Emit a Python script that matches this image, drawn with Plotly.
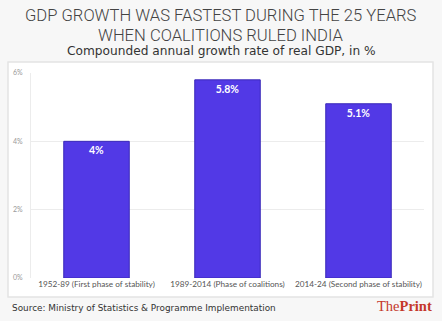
import plotly.graph_objects as go

# Compounded annual growth rate of real GDP by political phase
periods = [
    "1952-89 (First phase of stability)",
    "1989-2014 (Phase of coalitions)",
    "2014-24 (Second phase of stability)",
]
growth = [4.0, 5.8, 5.1]
bar_labels = ["4%", "5.8%", "5.1%"]
y_ticks = [0, 2, 4, 6]
y_tick_labels = ["0%", "2%", "4%", "6%"]
title_lines = [
    "GDP GROWTH WAS FASTEST DURING THE 25 YEARS",
    "WHEN COALITIONS RULED INDIA",
]

W, H = 442, 321
ML, MR, MT, MB = 31, 18, 73, 43
PW, PH = W - ML - MR, H - MT - MB


def px(x):
    return (x - ML) / PW


def py(y):
    return (H - MB - y) / PH


fig = go.Figure(
    go.Bar(
        x=periods,
        y=growth,
        text=bar_labels,
        textposition="inside",
        insidetextanchor="end",
        textfont=dict(family="Lato", size=10.5, color="white", weight="bold"),
        marker=dict(color="#5239e6", line=dict(color="#3a28b8", width=1)),
        width=0.5,
        hoverinfo="skip",
    )
)

# white card behind the plot
fig.add_shape(
    type="rect", xref="paper", yref="paper",
    x0=px(8), x1=px(433), y0=py(297), y1=py(62),
    fillcolor="white", line=dict(color="#e4e4e4", width=1.5),
    layer="below",
)

for line, yc in zip(title_lines, [15.5, 35]):
    fig.add_annotation(
        text=line,
        xref="paper", yref="paper", x=px(221), y=py(yc),
        showarrow=False, xanchor="center", yanchor="middle",
        font=dict(family="Roboto", size=16.6, color="#444444", weight=300),
    )
fig.add_annotation(
    text="Compounded annual growth rate of real GDP, in %",
    xref="paper", yref="paper", x=px(221), y=py(51),
    showarrow=False, xanchor="center", yanchor="middle",
    font=dict(family="DejaVu Sans", size=12.2, color="#333333"),
)
fig.add_annotation(
    text="Source: Ministry of Statistics & Programme Implementation",
    xref="paper", yref="paper", x=px(10), y=py(308),
    showarrow=False, xanchor="left", yanchor="middle",
    font=dict(family="DejaVu Sans", size=8.9, color="#333333"),
)
fig.add_annotation(
    text="The<b>Print</b>",
    xref="paper", yref="paper", x=px(434), y=py(306),
    showarrow=False, xanchor="right", yanchor="middle",
    font=dict(family="Liberation Serif", size=14.5, color="#c4382a"),
)

fig.update_layout(
    width=W, height=H,
    margin=dict(l=ML, r=MR, t=MT, b=MB),
    paper_bgcolor="#f7f7f7", plot_bgcolor="white",
    showlegend=False,
    xaxis=dict(
        showgrid=False, showline=False, ticks="",
        tickfont=dict(family="Lato", size=8.2, color="#555555"),
    ),
    yaxis=dict(
        range=[0, 6], tickvals=y_ticks, ticktext=y_tick_labels,
        showgrid=True, gridcolor="#ececec", gridwidth=1,
        zeroline=False, showline=True, linecolor="#ececec",
        ticks="", ticklabelstandoff=6,
        tickfont=dict(family="Lato", size=7, color="#999999"),
    ),
)

fig.write_html("out.html")
